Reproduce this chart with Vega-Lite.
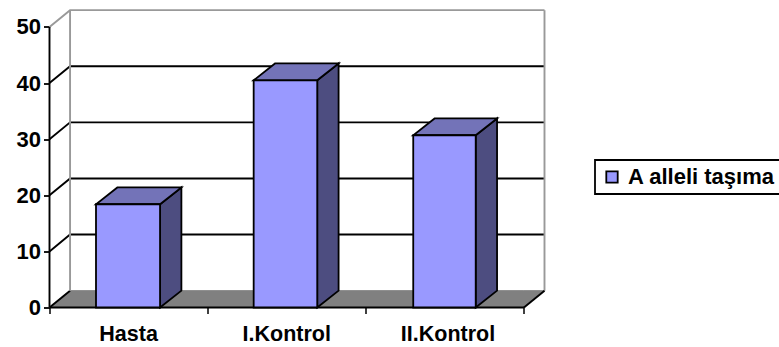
{
  "$schema": "https://vega.github.io/schema/vega-lite/v6.json",
  "width": 495,
  "height": 297,
  "autosize": {"type": "none"},
  "padding": {"left": 49.5, "top": 10.5, "right": 234.5, "bottom": 39.5},
  "background": "white",
  "config": {
    "view": {"stroke": null},
    "font": "Liberation Sans",
    "legend": {"strokeWidth": 1.8}
  },
  "datasets": {
    "bars": [
      {"kategori": "Hasta", "seri": "A alleli taşıma", "deger": 18.4, "x0": 0.294, "x1": 0.699, "orta": 0.5},
      {"kategori": "I.Kontrol", "seri": "A alleli taşıma", "deger": 40.5, "x0": 1.291, "x1": 1.693, "orta": 1.5},
      {"kategori": "II.Kontrol", "seri": "A alleli taşıma", "deger": 30.7, "x0": 2.3, "x1": 2.695, "orta": 2.52}
    ],
    "sides": [
      {"kategori": "Hasta", "x": 0.699, "alt": 0, "ust": 18.4},
      {"kategori": "Hasta", "x": 0.834, "alt": 3, "ust": 21.4},
      {"kategori": "I.Kontrol", "x": 1.693, "alt": 0, "ust": 40.5},
      {"kategori": "I.Kontrol", "x": 1.828, "alt": 3, "ust": 43.5},
      {"kategori": "II.Kontrol", "x": 2.695, "alt": 0, "ust": 30.7},
      {"kategori": "II.Kontrol", "x": 2.83, "alt": 3, "ust": 33.7}
    ],
    "tops": [
      {"kategori": "Hasta", "x": 0.294, "alt": 18.4, "ust": 18.4},
      {"kategori": "Hasta", "x": 0.429, "alt": 18.4, "ust": 21.4},
      {"kategori": "Hasta", "x": 0.699, "alt": 18.4, "ust": 21.4},
      {"kategori": "Hasta", "x": 0.834, "alt": 21.4, "ust": 21.4},
      {"kategori": "I.Kontrol", "x": 1.291, "alt": 40.5, "ust": 40.5},
      {"kategori": "I.Kontrol", "x": 1.426, "alt": 40.5, "ust": 43.5},
      {"kategori": "I.Kontrol", "x": 1.693, "alt": 40.5, "ust": 43.5},
      {"kategori": "I.Kontrol", "x": 1.828, "alt": 43.5, "ust": 43.5},
      {"kategori": "II.Kontrol", "x": 2.3, "alt": 30.7, "ust": 30.7},
      {"kategori": "II.Kontrol", "x": 2.435, "alt": 30.7, "ust": 33.7},
      {"kategori": "II.Kontrol", "x": 2.695, "alt": 30.7, "ust": 33.7},
      {"kategori": "II.Kontrol", "x": 2.83, "alt": 33.7, "ust": 33.7}
    ],
    "floor": [
      {"x": 0, "alt": 0, "ust": 0},
      {"x": 0.13, "alt": 0, "ust": 3},
      {"x": 3, "alt": 0, "ust": 3},
      {"x": 3.13, "alt": 3, "ust": 3}
    ],
    "frame": [
      {"cizgi": "g0", "tur": "grid", "x": 0, "y": 0},
      {"cizgi": "g0", "tur": "grid", "x": 0.13, "y": 3},
      {"cizgi": "g10", "tur": "grid", "x": 0, "y": 10},
      {"cizgi": "g10", "tur": "grid", "x": 0.13, "y": 13},
      {"cizgi": "g10", "tur": "grid", "x": 3.13, "y": 13},
      {"cizgi": "g20", "tur": "grid", "x": 0, "y": 20},
      {"cizgi": "g20", "tur": "grid", "x": 0.13, "y": 23},
      {"cizgi": "g20", "tur": "grid", "x": 3.13, "y": 23},
      {"cizgi": "g30", "tur": "grid", "x": 0, "y": 30},
      {"cizgi": "g30", "tur": "grid", "x": 0.13, "y": 33},
      {"cizgi": "g30", "tur": "grid", "x": 3.13, "y": 33},
      {"cizgi": "g40", "tur": "grid", "x": 0, "y": 40},
      {"cizgi": "g40", "tur": "grid", "x": 0.13, "y": 43},
      {"cizgi": "g40", "tur": "grid", "x": 3.13, "y": 43},
      {"cizgi": "ust", "tur": "wall", "x": 0, "y": 50},
      {"cizgi": "ust", "tur": "wall", "x": 0.13, "y": 53},
      {"cizgi": "ust", "tur": "wall", "x": 3.13, "y": 53},
      {"cizgi": "sol", "tur": "wall", "x": 0.13, "y": 3},
      {"cizgi": "sol", "tur": "wall", "x": 0.13, "y": 53},
      {"cizgi": "sag", "tur": "wall", "x": 3.13, "y": 3},
      {"cizgi": "sag", "tur": "wall", "x": 3.13, "y": 53},
      {"cizgi": "yeksen", "tur": "axis", "x": 0, "y": 0},
      {"cizgi": "yeksen", "tur": "axis", "x": 0, "y": 50},
      {"cizgi": "xeksen", "tur": "axis", "x": 0, "y": 0},
      {"cizgi": "xeksen", "tur": "axis", "x": 3, "y": 0},
      {"cizgi": "kose", "tur": "axis", "x": 3, "y": 0},
      {"cizgi": "kose", "tur": "axis", "x": 3.13, "y": 3}
    ]
  },
  "layer": [
    {
      "data": {"name": "floor"},
      "mark": {"type": "area", "orient": "vertical", "fill": "#808080", "stroke": "#808080", "strokeWidth": 1},
      "encoding": {
        "x": {
          "field": "x", "type": "quantitative",
          "scale": {"domain": [0, 3.13], "nice": false, "zero": false},
          "axis": {
            "title": null, "values": [0, 1, 2, 3], "labels": false, "grid": false, "domain": false,
            "ticks": true, "tickSize": 6, "tickColor": "#000", "tickWidth": 1.5
          }
        },
        "y": {
          "field": "alt", "type": "quantitative",
          "scale": {"domain": [0, 52.94], "nice": false, "zero": false},
          "axis": {
            "title": null, "values": [0, 10, 20, 30, 40, 50], "grid": false, "domain": false,
            "ticks": true, "tickSize": 6, "tickColor": "#000", "tickWidth": 1.8,
            "labelFont": "Liberation Sans", "labelFontWeight": "bold", "labelFontSize": 22,
            "labelColor": "#000", "labelPadding": 3
          }
        },
        "y2": {"field": "ust"}
      }
    },
    {
      "data": {"name": "frame"},
      "mark": {"type": "line", "strokeWidth": 1.9, "interpolate": "linear"},
      "encoding": {
        "x": {"field": "x", "type": "quantitative"},
        "y": {"field": "y", "type": "quantitative"},
        "detail": {"field": "cizgi"},
        "stroke": {
          "field": "tur", "type": "nominal",
          "scale": {"domain": ["grid", "wall", "axis"], "range": ["#000000", "#999999", "#000000"]},
          "legend": null
        }
      }
    },
    {
      "data": {"name": "sides"},
      "mark": {"type": "area", "orient": "vertical", "fill": "#4D4D80", "stroke": "#000", "strokeWidth": 1.8},
      "encoding": {
        "x": {"field": "x", "type": "quantitative"},
        "y": {"field": "alt", "type": "quantitative"},
        "y2": {"field": "ust"},
        "detail": {"field": "kategori"}
      }
    },
    {
      "data": {"name": "tops"},
      "mark": {"type": "area", "orient": "vertical", "fill": "#7373B8", "stroke": "#000", "strokeWidth": 1.8},
      "encoding": {
        "x": {"field": "x", "type": "quantitative"},
        "y": {"field": "alt", "type": "quantitative"},
        "y2": {"field": "ust"},
        "detail": {"field": "kategori"}
      }
    },
    {
      "data": {"name": "bars"},
      "mark": {"type": "rect", "stroke": "#000", "strokeWidth": 1.8},
      "encoding": {
        "x": {"field": "x0", "type": "quantitative"},
        "x2": {"field": "x1"},
        "y": {"field": "deger", "type": "quantitative"},
        "y2": {"datum": 0},
        "fill": {
          "field": "seri", "type": "nominal",
          "scale": {"range": ["#9999FF"]},
          "legend": {
            "title": null, "orient": "none", "legendX": 545.5, "legendY": 149.5,
            "symbolType": "square", "symbolSize": 130, "symbolStrokeColor": "#000", "symbolStrokeWidth": 1.8,
            "labelFont": "Liberation Sans", "labelFontWeight": "bold", "labelFontSize": 22, "labelColor": "#000",
            "strokeColor": "#000", "fillColor": "#fff", "padding": 6, "labelOffset": 5, "labelLimit": 300
          }
        }
      }
    },
    {
      "data": {"name": "bars"},
      "mark": {"type": "text", "font": "Liberation Sans", "fontWeight": "bold", "fontSize": 21.5, "color": "#000", "align": "center", "baseline": "top", "dy": 16},
      "encoding": {
        "x": {"field": "orta", "type": "quantitative"},
        "y": {"datum": 0},
        "text": {"field": "kategori"}
      }
    }
  ]
}
